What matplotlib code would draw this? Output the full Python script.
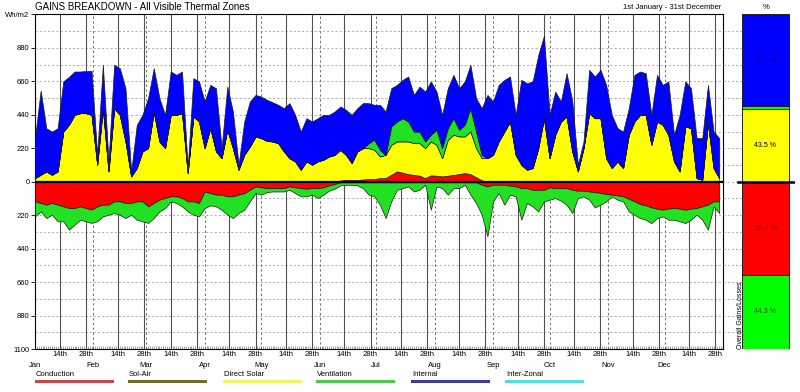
import numpy as np
import matplotlib
matplotlib.use("Agg")
import matplotlib.pyplot as plt
import matplotlib.transforms as mtransforms

plt.rcParams['font.family'] = ['Liberation Sans', 'DejaVu Sans']

# daily samples (every 3rd day of the year), Wh/m2
days = list(range(0, 364, 3))

# gains (stacked upward)
cond_gain = [0] * 54 + [8, 13, 12, 12, 15, 18, 18, 24, 24, 46, 68, 60, 50, 45, 40, 24, 42, 40, 35,
                        40, 45, 50, 57, 50, 30, 10] + [0] * 42
solar = [24, 46, 68, 46, 68, 330, 375, 440, 451, 451, 440, 112, 484, 68, 484, 440, 265, 35, 90, 200,
         221, 462, 265, 221, 440, 440, 451, 57, 429, 396,
         221, 353, 200, 155, 342, 221, 79, 177, 232, 298, 287, 269, 265, 254, 200, 155, 134, 79, 134,
         112, 134, 145, 166, 177,
         202, 164, 111, 188, 206, 203, 192,
         142, 153, 197, 197, 205, 215, 209, 214, 197, 223, 203, 120, 236, 264, 248, 241, 280, 191, 145,
         155, 177, 265, 330, 396, 177, 112, 79, 90, 221, 418,
         155, 309, 396, 429, 200, 68, 221, 451, 418, 418, 155, 90, 134, 90, 309, 396, 440, 440, 243,
         396, 375, 309, 134, 68, 364, 353, 24, 13, 385, 90, 24]
vent_gain = [0] * 59 + [33, 66, 44, 0, 121, 131, 153, 131, 76, 76, 44, 44, 99, 66, 77, 109, 44, 77,
                        154, 109, 22] + [0] * 42
internal = [263, 554, 284, 284, 284, 330, 315, 285, 274, 278, 289, 65, 285, 66, 285, 307, 350, 33, 285,
            240, 329, 285, 285, 219, 285, 263, 274, 33, 252, 264,
            307, 284, 415, 66, 284, 241, 33, 219, 296, 273, 273, 270, 258, 252, 284, 362, 306, 251, 284,
            284, 284, 295, 274, 285,
            285, 296, 317, 284, 296,
            263, 230, 296, 285, 251, 241, 252, 296, 241, 296, 328, 351, 251, 219, 262, 285, 273, 285,
            285, 220, 307,
            416, 351, 372, 340, 296, 263, 558, 569, 570, 613, 542,
            285, 284, 132, 285, 334, 44, 44, 285, 274, 318, 482, 350, 219, 240, 175, 307, 285, 274,
            197, 307, 262, 351, 175, 372, 296, 262, 263, 274, 252, 240, 263]

# losses (stacked downward)
cond_loss = [129, 140, 151, 140, 151, 162, 173, 173, 162, 173, 184, 162, 151, 151, 129, 129, 140, 140,
             129, 129, 162, 140, 118, 107, 96, 96, 107, 129, 129, 140,
             64, 75, 85, 85, 96, 96, 85, 75, 53, 31, 37, 42, 42, 42, 42, 31, 37, 42, 46, 42, 42, 37,
             24, 15] + [4] * 25 + [20,
             31, 20, 20, 20, 26, 31, 42, 42, 53, 53, 53,
             37, 42, 42, 42, 53, 59, 59, 64, 68, 74, 81, 85, 90, 96, 112, 129, 147, 155, 169, 177,
             184, 177, 173, 177, 184, 177, 173, 162, 151, 129, 129]
vent_loss = [99, 55, 88, 77, 109, 98, 142, 109, 88, 87, 87, 98, 77, 66, 77, 88, 99, 77, 121, 131,
             109, 99, 77, 66, 33, 44, 55, 66, 88, 88,
             109, 80, 77, 99, 121, 143, 121, 109, 76, 43, 48, 26, 22, 22, 22, 22, 37, 54, 50, 43, 65,
             48, 35, 31,
             20, 16, 16, 20, 38, 81, 92, 147, 235, 125, 49, 38, 27, 60, 49, 16, 180, 27, 38, 81, 38,
             38, 16, 81, 136, 197,
             328, 109, 54, 131, 59, 65, 208, 98, 109, 142, 76,
             81, 65, 83, 109, 153, 48, 37, 54, 101, 77, 48, 11, 28, 33, 83, 88, 92, 95, 103, 62, 44,
             73, 77, 83, 88, 73, 44, 88, 164, 33, 77]

months = ['Jan', 'Feb', 'Mar', 'Apr', 'May', 'Jun', 'Jul', 'Aug', 'Sep', 'Oct', 'Nov', 'Dec']
month_start = [0, 31, 59, 90, 120, 151, 181, 212, 243, 273, 304, 334]

# overall gains / losses split (%)
gain_pct = [43.5, 1.5, 55.0]      # direct solar, ventilation, internal
loss_pct = [55.7, 44.3]           # conduction, ventilation

legend_names = ['Conduction', 'Sol-Air', 'Direct Solar', 'Ventilation', 'Internal', 'Inter-Zonal']
legend_colors = ['#c84848', '#6e6e30', '#f4f460', '#50c850', '#3c3c90', '#50e0e0']

RED, YEL, GRN, BLU = '#ff0000', '#ffff00', '#22e022', '#0000ff'

fig = plt.figure(figsize=(8, 3.92), dpi=100)
W, H = 800.0, 392.0
bot, hgt = (H - 349) / H, (349 - 14.5) / H
ax = fig.add_axes([35 / W, bot, 688 / W, hgt])

d = np.array(days)
ax.stackplot(d, cond_gain, solar, vent_gain, internal,
             colors=[RED, YEL, GRN, BLU], edgecolor='#1a1a1a', linewidth=0.5, zorder=3)
ax.stackplot(d, -np.array(cond_loss), -np.array(vent_loss),
             colors=[RED, GRN], edgecolor='#1a1a1a', linewidth=0.5, zorder=3)

ax.set_xlim(0, 365)
ax.set_ylim(-1100, 1100)

# grid
for yv in np.arange(-990, 1100, 110):
    ax.axhline(yv, color='#a0a0a0', lw=0.6, ls=(0, (2.5, 2.5)), zorder=1)
for ms in month_start[1:]:
    ax.axvline(ms, color='#707070', lw=0.7, ls=(0, (2.5, 2.5)), zorder=1)
major = []
for ms in month_start:
    major += [ms + 13, ms + 27]
for mx in major:
    ax.axvline(mx, color='#505050', lw=0.8, zorder=1)
ax.axhline(0, color='black', lw=1.6, zorder=5)

yt = list(range(-1100, 1101, 220))
ax.set_yticks(yt)
ax.set_yticklabels([str(abs(v)) for v in yt[:-1]] + ['Wh/m2'], fontsize=5.5)
ax.tick_params(axis='y', length=3, width=0.6, pad=1)

ax.set_xticks(major)
ax.set_xticklabels(['14th', '28th'] * 12, fontsize=5.5)
ax.set_xticks(range(0, 366), minor=True)
ax.tick_params(axis='x', which='major', length=0, pad=1.5)
ax.tick_params(axis='x', which='minor', direction='in', length=2.5, width=0.4, color='#606060')

trans = mtransforms.blended_transform_factory(ax.transData, fig.transFigure)
for name, ms in zip(months, month_start):
    ax.text(ms, (H - 365.5) / H, name, transform=trans, ha='center', va='center', fontsize=5.5)

for sp in ax.spines.values():
    sp.set_linewidth(0.8)

fig.text(35 / W, 1 - 7.5 / H, 'GAINS BREAKDOWN - All Visible Thermal Zones',
         fontsize=7, va='center', ha='left')
fig.text(721 / W, 1 - 7.5 / H, '1st January - 31st December', fontsize=5.5, va='center', ha='right')

# right panel
ax2 = fig.add_axes([723 / W, bot, 72 / W, hgt])
ax2.set_xlim(0, 72)
ax2.set_ylim(-1100, 1100)
ax2.axis('off')
for yv in np.arange(-990, 1100, 110):
    ax2.plot([0, 19], [yv, yv], color='#a0a0a0', lw=0.6, ls=(0, (2.5, 2.5)))

gcols = [YEL, '#00ff00', BLU]
gtxt = ['#000000', None, '#00008b']
b = 0
for p, c, tc in zip(gain_pct, gcols, gtxt):
    h = p / 100 * 1100
    ax2.bar(42.5, h, width=47, bottom=b, color=c, edgecolor='#202020', linewidth=0.7)
    if tc:
        ax2.text(42.5, b + h / 2, f'{p:.1f} %', ha='center', va='center', fontsize=5, color=tc)
    b += h
lcols = [RED, '#00ff00']
ltxt = ['#8b0000', '#006000']
b = 0
for p, c, tc in zip(loss_pct, lcols, ltxt):
    h = p / 100 * 1100
    ax2.bar(42.5, -h, width=47, bottom=b, color=c, edgecolor='#202020', linewidth=0.7)
    ax2.text(42.5, b - h / 2, f'{p:.1f} %', ha='center', va='center', fontsize=5, color=tc)
    b -= h
ax2.plot([15, 71], [0, 0], color='black', lw=1.8)
fig.text(766 / W, 1 - 7.5 / H, '%', fontsize=5.5, ha='center', va='center')
ax2.text(17, -1100, 'Overall Gains/Losses', rotation=90, ha='center', va='bottom', fontsize=5)

# legend
xs = [36, 129, 224, 317, 412, 506]
for x0, name, c in zip(xs, legend_names, legend_colors):
    fig.text(x0 / W, (H - 374) / H, name, fontsize=5.5, ha='left', va='center')
    fig.add_artist(plt.Line2D([x0 / W, (x0 + 76) / W], [(H - 380.5) / H] * 2, color=c, lw=2.2,
                              transform=fig.transFigure))

fig.savefig('out.png', dpi=100)
